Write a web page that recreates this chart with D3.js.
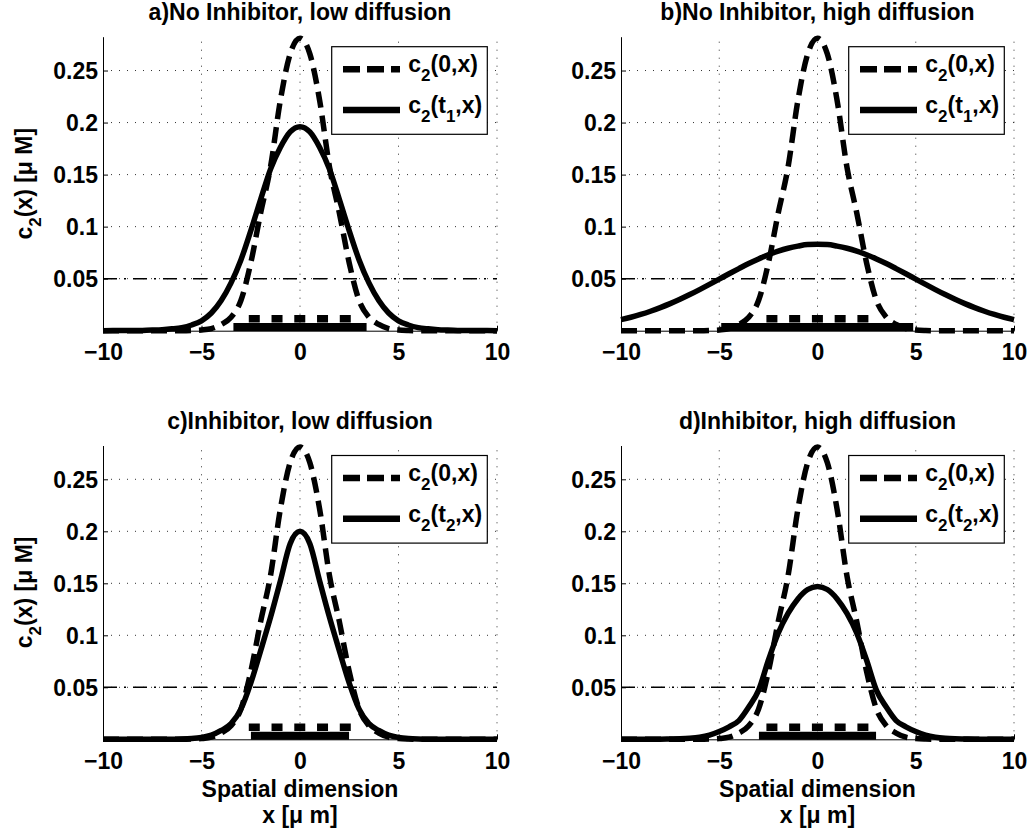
<!DOCTYPE html>
<html><head><meta charset="utf-8">
<script src="https://cdn.jsdelivr.net/npm/d3@7"></script>
<style>
body{margin:0;background:#fff}
svg{display:block;background:#fff}
text{font-family:"Liberation Sans",Arial,Helvetica,sans-serif;font-weight:bold;fill:#000}
</style>
</head><body>
<svg id="chart" width="1030" height="833"></svg>
<script>
// ---------- data ----------
const xGrid = [-10,-9.5,-9,-8.5,-8,-7.5,-7,-6.5,-6,-5.5,-5,-4.5,-4,-3.5,-3,-2.5,-2,-1.5,-1,-0.5,
  0,0.5,1,1.5,2,2.5,3,3.5,4,4.5,5,5.5,6,6.5,7,7.5,8,8.5,9,9.5,10];

// c2(0,x): initial profile (dashed), same in all panels
const c2Initial = [0,0,0,0,0,0,0,0,0,0.0002,0.0007,0.002,0.006,0.013,0.029,0.065,0.113,0.157,0.221,0.266,
  0.281,0.266,0.221,0.157,0.113,0.065,0.029,0.013,0.006,0.002,0.0007,0.0002,0,0,0,0,0,0,0,0,0];

// a) c2(t1,x) no inhibitor, low diffusion
const c2T1Low = [0,0.0001,0.0001,0.0002,0.0003,0.0006,0.001,0.0018,0.003,0.0055,0.0095,0.017,0.029,0.046,0.068,0.096,0.126,0.155,0.176,0.191,
  0.196,0.191,0.176,0.155,0.126,0.096,0.068,0.046,0.029,0.017,0.0095,0.0055,0.003,0.0018,0.001,0.0006,0.0003,0.0002,0.0001,0.0001,0];

// b) c2(t1,x) no inhibitor, high diffusion
const c2T1High = [0.0106,0.0129,0.0156,0.0187,0.0222,0.026,0.0302,0.0347,0.0395,0.0445,0.0496,0.0547,0.0597,0.0646,0.069,0.073,0.0764,0.0792,0.0813,0.0828,
  0.083,0.0828,0.0813,0.0792,0.0764,0.073,0.069,0.0646,0.0597,0.0547,0.0496,0.0445,0.0395,0.0347,0.0302,0.026,0.0222,0.0187,0.0156,0.0129,0.0106];

// c) c2(t2,x) inhibitor, low diffusion
const c2T2Low = [0,0,0,0,0,0,0,0,0.0002,0.0007,0.0018,0.004,0.0085,0.015,0.029,0.054,0.085,0.117,0.152,0.188,
  0.200,0.188,0.152,0.117,0.085,0.054,0.029,0.015,0.0085,0.004,0.0018,0.0007,0.0002,0,0,0,0,0,0,0,0];

// d) c2(t2,x) inhibitor, high diffusion
const c2T2High = [0,0,0,0,0.0001,0.0003,0.0005,0.001,0.002,0.004,0.0075,0.012,0.018,0.031,0.047,0.076,0.102,0.121,0.135,0.144,
  0.147,0.144,0.135,0.121,0.102,0.076,0.047,0.031,0.018,0.012,0.0075,0.004,0.002,0.001,0.0005,0.0003,0.0001,0,0,0,0];

const titles = ["a)No Inhibitor, low diffusion","b)No Inhibitor, high diffusion","c)Inhibitor, low diffusion","d)Inhibitor, high diffusion"];
const solidSeries = [c2T1Low, c2T1High, c2T2Low, c2T2High];
const solidTimeIndex = ["1","1","2","2"];
const threshold = 0.05;
// extents of the region above threshold (bars at the bottom)
const dashedBarStart = [-2.6,-2.6,-2.6,-2.6];
const dashedBarEnd   = [2.6,2.63,2.6,2.63];
const solidBarStart  = [-3.38,-4.9,-2.49,-2.98];
const solidBarEnd    = [3.38,4.87,2.49,2.98];
const dashedBarLevel = 0.0115;
const solidBarLevel  = 0.0035;

const xTicks = [-10,-5,0,5,10];
const xTickLabels = ["\u221210","\u22125","0","5","10"];
const yTicks = [0.05,0.1,0.15,0.2,0.25];
const yTickLabels = ["0.05","0.1","0.15","0.2","0.25"];
const xDomain = [-10,10];
const yDomain = [0,0.2825];

// ---------- layout ----------
const layout = [
  {left:103, right:497, top:36.7, bottom:330.7, ylab:true,  xlab:false},
  {left:621, right:1014, top:36.7, bottom:330.7, ylab:false, xlab:false},
  {left:103, right:497, top:445.5, bottom:739.3, ylab:true,  xlab:true},
  {left:621, right:1014, top:445.5, bottom:739.3, ylab:false, xlab:true}
];
const FS = 23, SUB = 17, SUBSHIFT = 9;
const CURVE_W = 5.5;
const DASH = "16,8";

const svg = d3.select("#chart");

function rich(sel, parts){
  let prevSub = false;
  parts.forEach(p => {
    const ts = sel.append("tspan").text(p.t);
    if (p.sub){ ts.attr("font-size", SUB).attr("dy", prevSub ? 0 : SUBSHIFT); prevSub = true; }
    else { if (prevSub) ts.attr("dy", -SUBSHIFT); prevSub = false; }
  });
}

layout.forEach((L, i) => {
  const x = d3.scaleLinear().domain(xDomain).range([L.left, L.right]);
  const y = d3.scaleLinear().domain(yDomain).range([L.bottom, L.top]);
  const g = svg.append("g");

  // grid
  g.append("g").selectAll("line").data(xTicks.filter(v => v !== xDomain[0])).join("line")
    .attr("x1", d => x(d)).attr("x2", d => x(d)).attr("y1", L.bottom).attr("y2", L.top)
    .attr("stroke", "#333").attr("stroke-width", 1).attr("stroke-dasharray", "1,7");
  g.append("g").selectAll("line").data(yTicks).join("line")
    .attr("x1", L.left).attr("x2", L.right).attr("y1", d => y(d)).attr("y2", d => y(d))
    .attr("stroke", "#333").attr("stroke-width", 1).attr("stroke-dasharray", "1,7");

  // threshold dash-dot line
  g.append("line").attr("x1", x(xDomain[0])).attr("x2", x(xDomain[1]))
    .attr("y1", y(threshold)).attr("y2", y(threshold))
    .attr("stroke", "#000").attr("stroke-width", 1.5).attr("stroke-dasharray", "14,7,2,7");

  const line = d3.line().x(d => x(d[0])).y(d => y(d[1])).curve(d3.curveMonotoneX);
  const initPts = xGrid.map((v, k) => [v, c2Initial[k]]);
  const solidPts = xGrid.map((v, k) => [v, solidSeries[i][k]]);

  g.append("path").attr("d", line(initPts)).attr("fill", "none").attr("stroke", "#000")
    .attr("stroke-width", CURVE_W).attr("stroke-dasharray", DASH);
  g.append("path").attr("d", line(solidPts)).attr("fill", "none").attr("stroke", "#000")
    .attr("stroke-width", CURVE_W);

  // bars
  g.append("line").attr("x1", x(dashedBarStart[i])).attr("x2", x(dashedBarEnd[i]))
    .attr("y1", y(dashedBarLevel)).attr("y2", y(dashedBarLevel))
    .attr("stroke", "#000").attr("stroke-width", 7.5).attr("stroke-dasharray", "11,11.75");
  g.append("line").attr("x1", x(solidBarStart[i])).attr("x2", x(solidBarEnd[i]))
    .attr("y1", y(solidBarLevel)).attr("y2", y(solidBarLevel))
    .attr("stroke", "#000").attr("stroke-width", 8);

  // axes
  const ax = g.append("g").attr("transform", `translate(0,${L.bottom})`)
    .call(d3.axisBottom(x).tickValues(xTicks).tickFormat((d, k) => xTickLabels[k])
      .tickSizeInner(-5).tickSizeOuter(0).tickPadding(13));
  const ay = g.append("g").attr("transform", `translate(${L.left},0)`)
    .call(d3.axisLeft(y).tickValues(yTicks).tickFormat((d, k) => yTickLabels[k])
      .tickSizeInner(-5).tickSizeOuter(0).tickPadding(5));
  [ax, ay].forEach(a => {
    a.selectAll("text").attr("font-size", FS).attr("font-family", null).style("fill", "#000");
    a.select(".domain").attr("stroke", "#000").attr("stroke-width", 1);
    a.selectAll(".tick line").attr("stroke", "#000");
    a.attr("font-family", null).attr("font-size", null);
  });
  ay.selectAll("text").attr("dy", "0.36em");

  // title
  g.append("text").attr("x", (L.left + L.right) / 2).attr("y", L.top - 16.7)
    .attr("text-anchor", "middle").attr("font-size", FS).text(titles[i]);

  // y label
  if (L.ylab){
    const t = g.append("text").attr("transform", `translate(31.5,${(L.top + L.bottom) / 2}) rotate(-90)`)
      .attr("text-anchor", "middle").attr("font-size", FS);
    rich(t, [{t:"c"},{t:"2",sub:true},{t:"(x) [\u03bc M]"}]);
  }
  // x label
  if (L.xlab){
    const cx = (L.left + L.right) / 2;
    g.append("text").attr("x", cx).attr("y", L.bottom + 58).attr("text-anchor", "middle")
      .attr("font-size", FS).text("Spatial dimension");
    g.append("text").attr("x", cx).attr("y", L.bottom + 84).attr("text-anchor", "middle")
      .attr("font-size", FS).text("x [\u03bc m]");
  }

  // legend
  const bx = L.right - 165.3, bw = 155.6, by = L.top + 10, bh = 87.6;
  const lg = g.append("g");
  lg.append("rect").attr("x", bx).attr("y", by).attr("width", bw).attr("height", bh)
    .attr("fill", "#fff").attr("stroke", "#000").attr("stroke-width", 1.2);
  const rows = [by + 22.6, by + 63.3];
  lg.append("line").attr("x1", bx + 11.3).attr("x2", bx + 68.3).attr("y1", rows[0]).attr("y2", rows[0])
    .attr("stroke", "#000").attr("stroke-width", CURVE_W + 1).attr("stroke-dasharray", "17,7");
  lg.append("line").attr("x1", bx + 11.3).attr("x2", bx + 68.3).attr("y1", rows[1]).attr("y2", rows[1])
    .attr("stroke", "#000").attr("stroke-width", CURVE_W + 1);
  const t1 = lg.append("text").attr("x", bx + 76.6).attr("y", rows[0] + 2.5).attr("font-size", FS);
  rich(t1, [{t:"c"},{t:"2",sub:true},{t:"(0,x)"}]);
  const t2 = lg.append("text").attr("x", bx + 76.6).attr("y", rows[1] + 3).attr("font-size", FS);
  rich(t2, [{t:"c"},{t:"2",sub:true},{t:"(t"},{t:solidTimeIndex[i],sub:true},{t:",x)"}]);
});
</script>
</body></html>
